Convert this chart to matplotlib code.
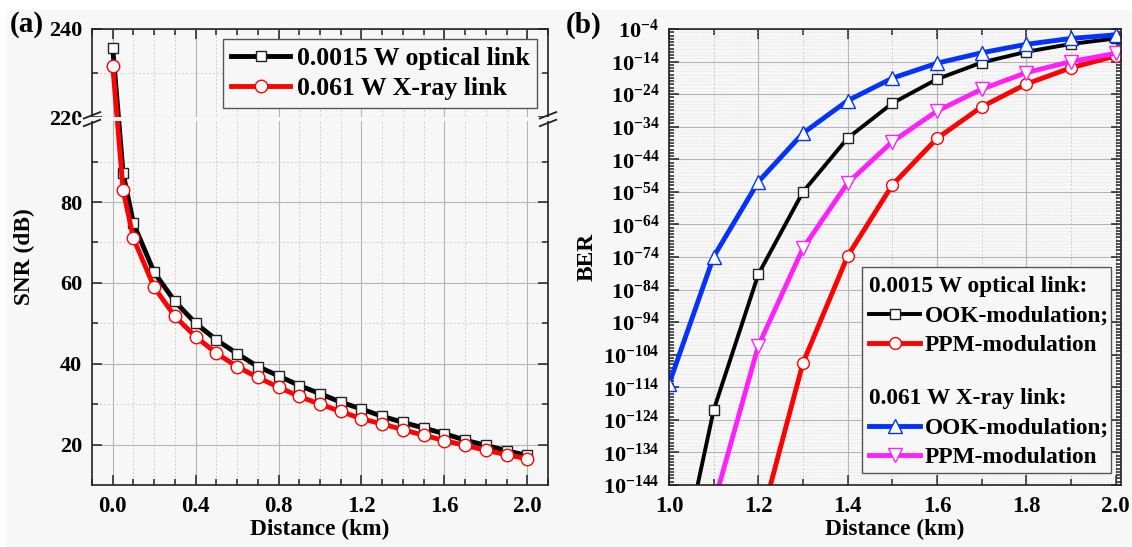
import numpy as np
import matplotlib
matplotlib.use('Agg')
import matplotlib.pyplot as plt
from matplotlib.ticker import FixedLocator, MultipleLocator, FuncFormatter, FormatStrFormatter
from matplotlib.patches import Rectangle
from matplotlib.lines import Line2D
from matplotlib.transforms import blended_transform_factory

plt.rcParams['font.family'] = ['Liberation Serif', 'DejaVu Serif']
plt.rcParams['font.weight'] = 'bold'
plt.rcParams['mathtext.fontset'] = 'custom'
plt.rcParams['mathtext.rm'] = 'Liberation Serif:bold'
plt.rcParams['mathtext.bf'] = 'Liberation Serif:bold'
plt.rcParams['mathtext.it'] = 'Liberation Serif:bold:italic'

BG = '#f7f7f7'

# (a) SNR vs distance
dist_a = [0.0, 0.05, 0.1, 0.2, 0.3, 0.4, 0.5, 0.6, 0.7, 0.8, 0.9, 1.0,
          1.1, 1.2, 1.3, 1.4, 1.5, 1.6, 1.7, 1.8, 1.9, 2.0]
snr_optical = [235.7, 87.1, 74.7, 62.6, 55.4, 50.0, 45.9, 42.5, 39.3, 37.0, 34.6,
               32.6, 30.5, 28.8, 27.0, 25.5, 24.1, 22.7, 21.1, 19.8, 18.5, 17.3]
snr_xray = [231.7, 83.0, 71.0, 58.9, 51.7, 46.7, 42.6, 39.3, 36.6, 34.2, 31.9,
            30.0, 28.2, 26.4, 25.1, 23.7, 22.3, 21.0, 19.8, 18.6, 17.5, 16.5]

# (b) BER vs distance (exponents of 10)
dist_b = [1.0, 1.1, 1.2, 1.3, 1.4, 1.5, 1.6, 1.7, 1.8, 1.9, 2.0]
nan = np.nan
exp_ook_opt = [-185, -121.0, -79.3, -54.0, -37.5, -26.8, -19.4, -14.3, -11.0, -8.6, -6.9]
exp_ppm_opt = [nan, nan, -158, -106.5, -73.7, -51.9, -37.6, -27.9, -20.9, -15.9, -12.3]
exp_ook_xray = [-113, -73.9, -50.9, -36.0, -26.0, -19.1, -14.5, -11.3, -8.7, -6.9, -5.8]
exp_ppm_xray = [nan, -150, -101.3, -71.3, -51.3, -38.6, -29.2, -22.5, -17.4, -14.0, -11.5]

W, H = 1132, 547
fig = plt.figure(figsize=(W / 100, H / 100), dpi=100, facecolor='white')
fig.add_artist(Rectangle((7 / W, 0), 1, 1 - 10 / H, transform=fig.transFigure,
                         color=BG, zorder=-1))

ax1 = fig.add_axes([92 / W, (H - 485) / H, 456 / W, 456 / H])
ax2 = fig.add_axes([669 / W, (H - 485) / H, 452 / W, 456 / H])


def style_axes(ax):
    ax.set_facecolor(BG)
    for s in ax.spines.values():
        s.set_linewidth(1.2)
        s.set_color('#222222')
    ax.tick_params(which='both', direction='in', top=True, right=True,
                   width=1.1, color='#222222')
    ax.tick_params(axis='x', labelsize=16.5, pad=8)
    ax.tick_params(axis='y', labelsize=16, pad=7)
    ax.tick_params(which='major', length=7)
    ax.tick_params(which='minor', length=4)
    ax.grid(which='major', color='#b4b4b4', lw=0.8, ls='-')
    ax.set_axisbelow(True)


# ---- panel (a): broken y axis via a piecewise scale
K_UP = 1.09


def fwd(v):
    return np.interp(v, [0, 100, 220, 300], [0, 100, 101, 101 + 80 * K_UP])


def inv(t):
    return np.interp(t, [0, 100, 101, 101 + 80 * K_UP], [0, 100, 220, 300])


style_axes(ax1)
ax1.set_yscale('function', functions=(fwd, inv))
ax1.plot(dist_a, snr_optical, color='black', lw=3.5, marker='s', ms=7.5,
         mfc='white', mec='#222222', mew=1.0, label='0.0015 W optical link', zorder=3)
ax1.plot(dist_a, snr_xray, color='#ff0000', lw=3.5, marker='o', ms=9,
         mfc='white', mec='#ff0000', mew=1.0, label='0.061 W X-ray link', zorder=3)
ax1.set_xlim(-0.1, 2.1)
ax1.set_ylim(10, 240)
ax1.xaxis.set_major_locator(MultipleLocator(0.4))
ax1.xaxis.set_minor_locator(MultipleLocator(0.1))
ax1.xaxis.set_major_formatter(FormatStrFormatter('%.1f'))
ax1.yaxis.set_major_locator(FixedLocator([20, 40, 60, 80, 220, 240]))
ax1.yaxis.set_minor_locator(FixedLocator([30, 50, 70, 90, 230]))
ax1.yaxis.set_major_formatter(FormatStrFormatter('%d'))
ax1.grid(which='minor', color='#cccccc', lw=0.7, ls=(0, (2, 2)))
ax1.set_xlabel('Distance (km)', fontsize=16.8, fontweight='bold')
ax1.set_ylabel('SNR (dB)', fontsize=16.8, fontweight='bold')
ax1.yaxis.set_label_coords(-0.125, 0.5)
ax1.xaxis.set_label_coords(0.5, -0.075)

# gap of the broken axis
band = Rectangle((-0.03, 100), 1.06, 120,
                 transform=blended_transform_factory(ax1.transAxes, ax1.transData),
                 facecolor=BG, edgecolor='none', clip_on=False, zorder=4)
ax1.add_patch(band)
span = fwd(240) - fwd(10)
yb0 = (fwd(100) - fwd(10)) / span
yb1 = (fwd(220) - fwd(10)) / span
for xs in (0, 1):
    for yc in (yb0 - 0.004, yb1 + 0.004):
        ax1.add_line(Line2D([xs - 0.018, xs + 0.018], [yc - 0.007, yc + 0.007],
                            transform=ax1.transAxes, color='#222222', lw=1.3,
                            clip_on=False, zorder=5))

ax1.legend(loc='upper right', bbox_to_anchor=(0.976, 0.978), borderaxespad=0,
           prop={'size': 18.5, 'weight': 'bold'}, handlelength=2.3,
           handletextpad=0.25, labelspacing=0.3, borderpad=0.3, fancybox=False,
           edgecolor='#555555', facecolor=BG, framealpha=1)

# ---- panel (b)
style_axes(ax2)
ax2.set_yscale('log')
xb = np.array(dist_b)
ln_ook_opt, = ax2.plot(xb, 10.0 ** np.array(exp_ook_opt), color='black', lw=2.8,
                       marker='s', ms=7.5, mfc='white', mec='#222222', mew=1.0)
ln_ppm_opt, = ax2.plot(xb, 10.0 ** np.array(exp_ppm_opt), color='#ff0000', lw=3.5,
                       marker='o', ms=8.5, mfc='white', mec='#ff0000', mew=1.0)
ln_ook_xray, = ax2.plot(xb, 10.0 ** np.array(exp_ook_xray), color='#0033ff', lw=3.5,
                        marker='^', ms=10, mfc='white', mec='#0033ff', mew=1.0)
ln_ppm_xray, = ax2.plot(xb, 10.0 ** np.array(exp_ppm_xray), color='#ff22ff', lw=3.5,
                        marker='v', ms=10, mfc='white', mec='#ff22ff', mew=1.0)
ax2.set_xlim(1.0, 2.012)
ax2.set_ylim(1e-144, 1e-4)
ax2.xaxis.set_major_locator(MultipleLocator(0.2))
ax2.xaxis.set_minor_locator(MultipleLocator(0.1))
ax2.xaxis.set_major_formatter(FormatStrFormatter('%.1f'))
ax2.yaxis.set_major_locator(FixedLocator(10.0 ** np.arange(-144, -3, 10)))
ax2.yaxis.set_minor_locator(FixedLocator(10.0 ** np.arange(-144, -3, 1)))
ax2.yaxis.set_major_formatter(
    FuncFormatter(lambda v, p: r'$\mathbf{10^{%d}}$' % int(round(np.log10(v)))))
ax2.yaxis.set_minor_formatter(FuncFormatter(lambda v, p: ''))
ax2.tick_params(axis='y', which='minor', length=3.5)
ax2.grid(which='minor', axis='y', color='#d4d4d4', lw=0.5, ls=(0, (1, 2)))
ax2.grid(which='minor', axis='x', color='#cccccc', lw=0.7, ls=(0, (2, 2)))
ax2.set_xlabel('Distance (km)', fontsize=16.8, fontweight='bold')
ax2.set_ylabel('BER', fontsize=16.8, fontweight='bold')
ax2.yaxis.set_label_coords(-0.157, 0.5)
ax2.xaxis.set_label_coords(0.5, -0.075)

# legend box with two titled groups
bx0, by0, bx1, by1 = 0.4267, 0.027, 0.978, 0.4787
ax2.add_patch(Rectangle((bx0, by0), bx1 - bx0, by1 - by0, transform=ax2.transAxes,
                        facecolor=BG, edgecolor='#555555', lw=1.0, zorder=4))
leg_kw = dict(prop={'size': 16.8, 'weight': 'bold'},
              title_fontproperties={'size': 16.8, 'weight': 'bold'},
              handlelength=2.2, handletextpad=0.2, labelspacing=0.36,
              frameon=False, alignment='left', borderaxespad=0)
leg1 = ax2.legend([ln_ook_opt, ln_ppm_opt], ['OOK-modulation;', 'PPM-modulation'],
                  title='0.0015 W optical link:', loc='upper left', borderpad=0.3,
                  bbox_to_anchor=(bx0, by1 - 0.005), **leg_kw)
leg1.set_zorder(6)
ax2.add_artist(leg1)
leg2 = ax2.legend([ln_ook_xray, ln_ppm_xray], ['OOK-modulation;', 'PPM-modulation'],
                  title='0.061 W X-ray link:', loc='lower left', borderpad=0.3,
                  bbox_to_anchor=(bx0, by0 - 0.006), **leg_kw)
leg2.set_zorder(6)

fig.text(10 / W, (H - 25) / H, '(a)', fontsize=21, fontweight='bold', va='center')
fig.text(566 / W, (H - 25) / H, '(b)', fontsize=21, fontweight='bold', va='center')

fig.savefig('out.png', dpi=100, facecolor='white')
